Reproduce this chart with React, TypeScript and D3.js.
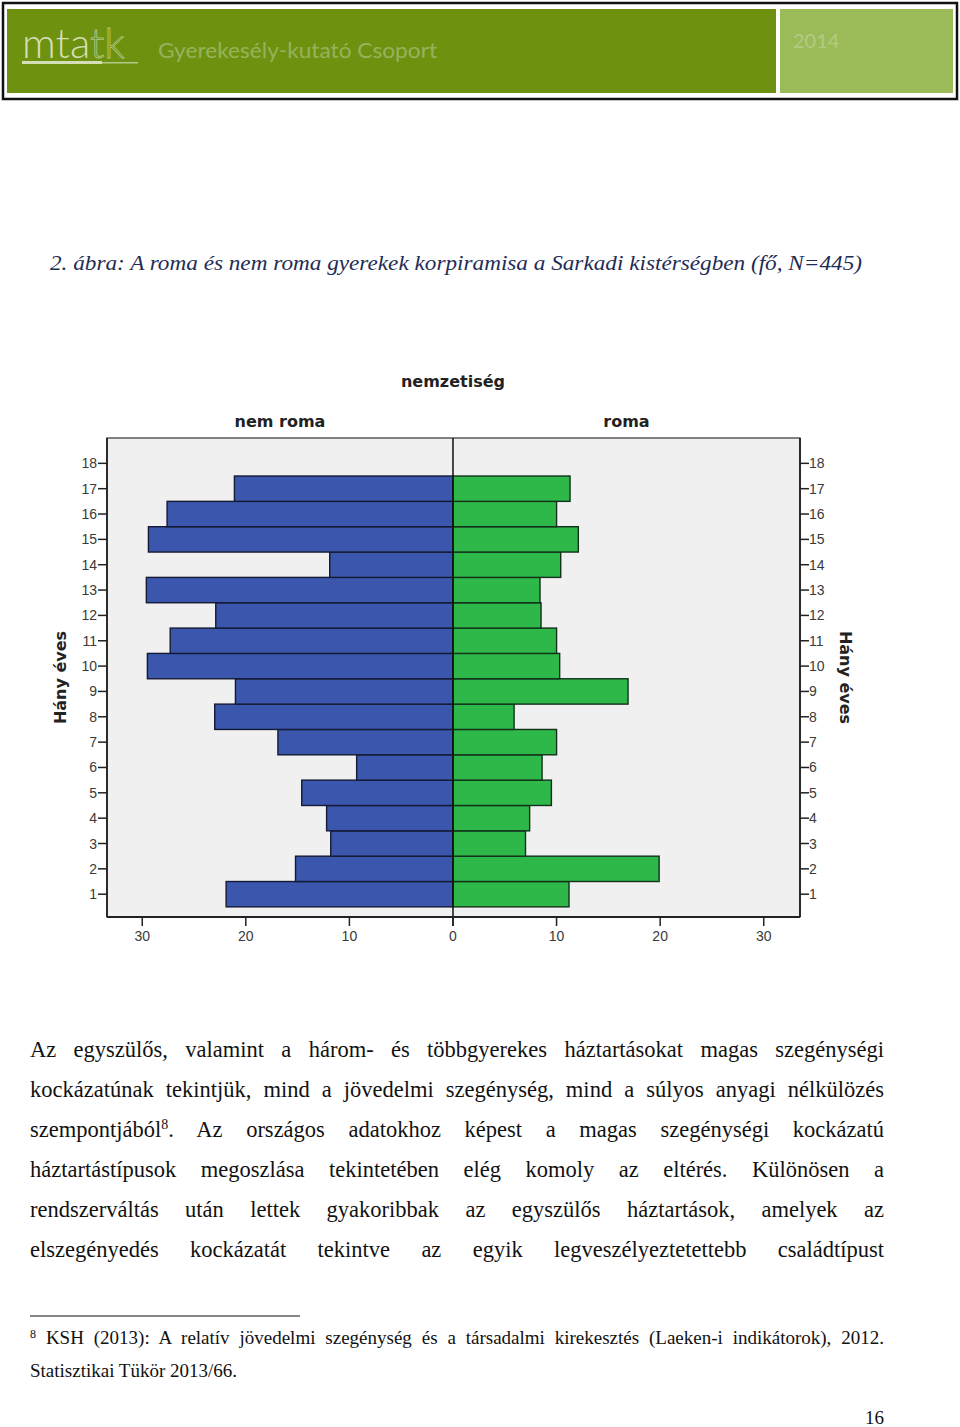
import React, { useEffect, useRef } from "react";
import * as d3 from "d3";

// ---- data ----
const ages = [1, 2, 3, 4, 5, 6, 7, 8, 9, 10, 11, 12, 13, 14, 15, 16, 17];
const nemRoma = [21.9, 15.2, 11.8, 12.2, 14.6, 9.3, 16.9, 23.0, 21.0, 29.5, 27.3, 22.9, 29.6, 11.9, 29.4, 27.6, 21.1];
const roma = [11.2, 19.9, 7.0, 7.4, 9.5, 8.6, 10.0, 5.9, 16.9, 10.3, 10.0, 8.5, 8.4, 10.4, 12.1, 10.0, 11.3];
const yTicks = [1, 2, 3, 4, 5, 6, 7, 8, 9, 10, 11, 12, 13, 14, 15, 16, 17, 18];
const xTicks = [-30, -20, -10, 0, 10, 20, 30];
const groupTitle = "nemzetiség";
const leftLabel = "nem roma";
const rightLabel = "roma";
const yLabel = "Hány éves";
const figTitle = "2. ábra: A roma és nem roma gyerekek korpiramisa a Sarkadi kistérségben (fő, N=445)";
const paragraph = [
  "Az egyszülős, valamint a három- és többgyerekes háztartásokat magas szegénységi",
  "kockázatúnak tekintjük, mind a jövedelmi szegénység, mind a súlyos anyagi nélkülözés",
  "szempontjából|8|. Az országos adatokhoz képest a magas szegénységi kockázatú",
  "háztartástípusok megoszlása tekintetében elég komoly az eltérés. Különösen a",
  "rendszerváltás után lettek gyakoribbak az egyszülős háztartások, amelyek az",
  "elszegényedés kockázatát tekintve az egyik legveszélyeztetettebb családtípust",
];
const footnote1 = "KSH (2013): A relatív jövedelmi szegénység és a társadalmi kirekesztés (Laeken-i indikátorok), 2012.";
const footnote2 = "Statisztikai Tükör 2013/66.";

const W = 960;
const H = 1427;

export default function App() {
  const ref = useRef<SVGSVGElement | null>(null);

  const plot = { left: 107, right: 800, top: 438, bottom: 917 };
  const x = d3.scaleLinear().domain([-33.4, 33.5]).range([plot.left, plot.right]);
  const y = d3.scaleLinear().domain([0.1, 19]).range([plot.bottom, plot.top]);
  const x0 = x(0);

  useEffect(() => {
    if (!ref.current) return;
    d3.select(ref.current)
      .selectAll<SVGTextElement, unknown>("text.justify")
      .each(function () {
        const el = this as SVGTextElement;
        const target = +(el.getAttribute("data-width") || "0");
        el.style.wordSpacing = "0px";
        const w = el.getComputedTextLength();
        const spaces = (el.textContent || "").split(" ").length - 1;
        if (spaces > 0) el.style.wordSpacing = `${(target - w) / spaces}px`;
      });
  }, []);

  const serif = "'Liberation Serif', 'DejaVu Serif', serif";
  const sans = "'Liberation Sans', Arial, sans-serif";
  const bold = "'DejaVu Sans', sans-serif";

  const renderLine = (s: string) => {
    const parts = s.split("|");
    if (parts.length === 1) return s;
    return (
      <>
        {parts[0]}
        <tspan fontSize="14" dy="-8">{parts[1]}</tspan>
        <tspan dy="8">{parts[2]}</tspan>
      </>
    );
  };

  return (
    <svg
      ref={ref}
      width={W}
      height={H}
      style={{ position: "absolute", left: 0, top: 0, background: "#fff" }}
    >
      {/* header */}
      <rect x={3} y={3} width={954} height={96} fill="#fff" stroke="#111" strokeWidth={2.5} />
      <rect x={7} y={9} width={769} height={84} fill="#6e920f" />
      <rect x={780} y={9} width={173} height={84} fill="#9bbb59" />
      <text x={22} y={58} fontFamily="Lato, 'Open Sans', sans-serif" fontWeight={300} fontSize={42} fill="#d4dfb8">
        mta<tspan fill="#6e920f" stroke="#b3c98a" strokeWidth={0.8}>tk</tspan>
      </text>
      <rect x={22} y={61} width={80} height={3} fill="#d4dfb8" />
      <rect x={102} y={62} width={36} height={1.5} fill="#b3c98a" />
      <text x={158} y={58} fontFamily="Lato, 'Open Sans', sans-serif" fontSize={21} fill="#97b25e" textLength={279} lengthAdjust="spacingAndGlyphs">
        Gyerekesély-kutató Csoport
      </text>
      <text x={793} y={48} fontFamily="Lato, 'Open Sans', sans-serif" fontSize={20} fill="#b3cb82">
        2014
      </text>

      {/* figure title */}
      <text x={50} y={270} fontFamily={serif} fontStyle="italic" fontSize={22} fill="#1f2d55" textLength={812} lengthAdjust="spacingAndGlyphs">
        {figTitle}
      </text>

      {/* chart titles */}
      <text x={x0} y={387} textAnchor="middle" fontFamily={bold} fontWeight="bold" fontSize={16} fill="#222">
        {groupTitle}
      </text>
      <text x={(plot.left + x0) / 2} y={427} textAnchor="middle" fontFamily={bold} fontWeight="bold" fontSize={16} fill="#222">
        {leftLabel}
      </text>
      <text x={(x0 + plot.right) / 2} y={427} textAnchor="middle" fontFamily={bold} fontWeight="bold" fontSize={16} fill="#222">
        {rightLabel}
      </text>

      {/* plot background */}
      <rect x={plot.left} y={plot.top} width={plot.right - plot.left} height={plot.bottom - plot.top} fill="#f0f0f0" stroke="#333" strokeWidth={1.2} />

      {/* bars */}
      {ages.map((a, i) => (
        <rect
          key={"l" + a}
          x={x(-nemRoma[i])}
          y={y(a + 0.5)}
          width={x0 - x(-nemRoma[i])}
          height={y(a - 0.5) - y(a + 0.5)}
          fill="#3b57ad"
          stroke="#141a33"
          strokeWidth={1.4}
        />
      ))}
      {ages.map((a, i) => (
        <rect
          key={"r" + a}
          x={x0}
          y={y(a + 0.5)}
          width={x(roma[i]) - x0}
          height={y(a - 0.5) - y(a + 0.5)}
          fill="#2eb84a"
          stroke="#12301a"
          strokeWidth={1.4}
        />
      ))}

      {/* zero line */}
      <line x1={x0} x2={x0} y1={plot.top} y2={plot.bottom + 9} stroke="#111" strokeWidth={1.5} />

      {/* axes lines */}
      <line x1={plot.left} x2={plot.left} y1={plot.top} y2={plot.bottom} stroke="#222" strokeWidth={1.8} />
      <line x1={plot.right} x2={plot.right} y1={plot.top} y2={plot.bottom} stroke="#222" strokeWidth={1.8} />
      <line x1={plot.left} x2={plot.right} y1={plot.bottom} y2={plot.bottom} stroke="#222" strokeWidth={1.8} />

      {/* y ticks */}
      {yTicks.map((t) => (
        <g key={"yt" + t}>
          <line x1={plot.left - 9} x2={plot.left} y1={y(t)} y2={y(t)} stroke="#222" strokeWidth={1.5} />
          <text x={plot.left - 10} y={y(t) + 5} textAnchor="end" fontFamily={sans} fontSize={14} fill="#3a3a3a">
            {t}
          </text>
          <line x1={plot.right} x2={plot.right + 9} y1={y(t)} y2={y(t)} stroke="#222" strokeWidth={1.5} />
          <text x={plot.right + 9} y={y(t) + 5} textAnchor="start" fontFamily={sans} fontSize={14} fill="#3a3a3a">
            {t}
          </text>
        </g>
      ))}

      {/* x ticks */}
      {xTicks.map((t) => (
        <g key={"xt" + t}>
          <line x1={x(t)} x2={x(t)} y1={plot.bottom} y2={plot.bottom + 9} stroke="#222" strokeWidth={1.5} />
          <text x={x(t)} y={plot.bottom + 24} textAnchor="middle" fontFamily={sans} fontSize={14} fill="#3a3a3a">
            {Math.abs(t)}
          </text>
        </g>
      ))}

      {/* y labels */}
      <text transform={`translate(66, ${(plot.top + plot.bottom) / 2}) rotate(-90)`} textAnchor="middle" fontFamily={bold} fontWeight="bold" fontSize={16} fill="#222">
        {yLabel}
      </text>
      <text transform={`translate(840, ${(plot.top + plot.bottom) / 2}) rotate(90)`} textAnchor="middle" fontFamily={bold} fontWeight="bold" fontSize={16} fill="#222">
        {yLabel}
      </text>

      {/* paragraph */}
      {paragraph.map((line, i) => (
        <text key={"p" + i} className="justify" data-width={854} x={30} y={1057 + i * 40} fontFamily={serif} fontSize={22.5} fill="#111">
          {renderLine(line)}
        </text>
      ))}

      {/* footnote */}
      <line x1={30} x2={300} y1={1316} y2={1316} stroke="#111" strokeWidth={1.2} />
      <text className="justify" data-width={854} x={30} y={1344} fontFamily={serif} fontSize={19} fill="#111">
        <tspan fontSize={12} dy={-6}>8</tspan>
        <tspan dy={6}> {footnote1}</tspan>
      </text>
      <text x={30} y={1377} fontFamily={serif} fontSize={19} fill="#111">
        {footnote2}
      </text>
      <text x={884} y={1424} textAnchor="end" fontFamily={serif} fontSize={19} fill="#111">
        16
      </text>
    </svg>
  );
}
